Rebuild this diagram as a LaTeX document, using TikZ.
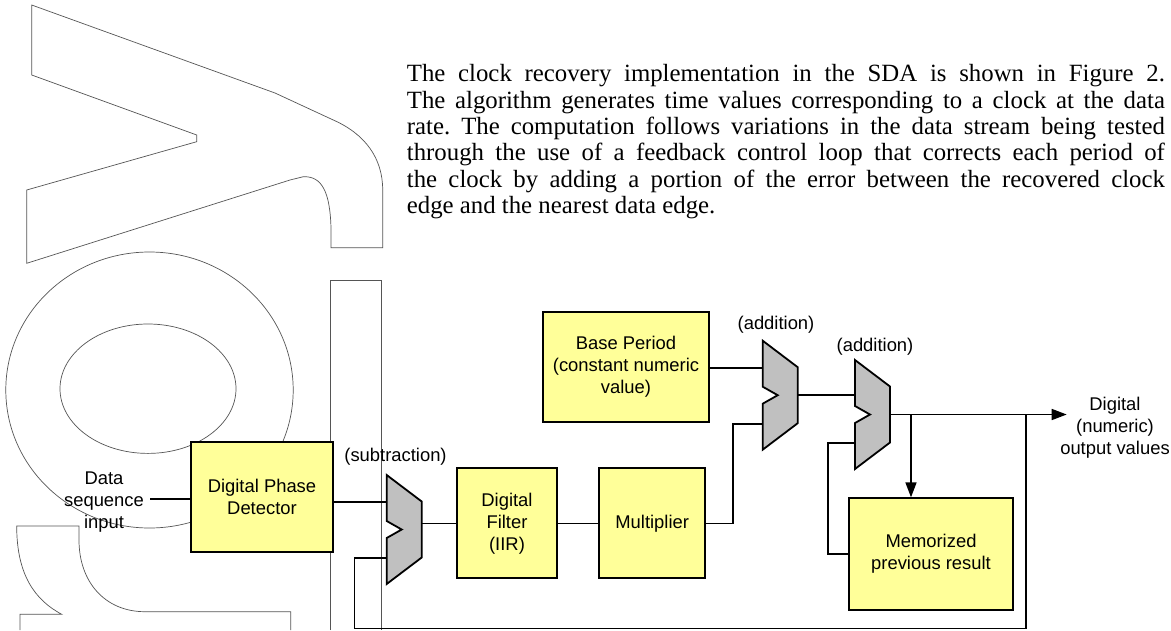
\documentclass[tikz,border=0pt]{standalone}
\usepackage{fontspec}
\setmainfont{Liberation Serif}
\newfontfamily\labelfont{Liberation Sans}
\usetikzlibrary{arrows.meta}
\frenchspacing

\definecolor{boxyellow}{HTML}{FFFF99}
\definecolor{muxgray}{HTML}{C0C0C0}
\definecolor{glyphgray}{HTML}{555555}

\tikzset{
  pics/adder/.style={code={
    \draw[mux] (0,0) -- (35,26.5) -- (35,82.5) -- (0,109) -- (0,63)
               -- (15,54.5) -- (0,46) -- cycle;
    \coordinate (-in1) at (0,27);
    \coordinate (-in2) at (0,83);
    \coordinate (-out) at (35,54.5);
  }}
}

\begin{document}
\begin{tikzpicture}[x=1pt,y=-1pt,
  labeltext/.style={font=\labelfont\fontsize{18.4pt}{22pt}\selectfont},
  block/.style={draw=black, line width=2pt, fill=boxyellow, align=center,
                labeltext, inner sep=0pt},
  wire/.style={draw=black, line width=1.6pt},
  mux/.style={draw=black, line width=1.8pt, fill=muxgray, line join=miter},
  lbl/.style={labeltext, align=center, inner sep=0pt},
  glyph/.style={draw=glyphgray, line width=0.7pt},
  para/.style={font=\fontsize{24.8pt}{26.3pt}\selectfont, anchor=base west, inner sep=0pt},
  tip/.style={-{Triangle[length=15pt,width=11pt]}}
]
\useasboundingbox (0,0) rectangle (1171,630);
\fill[white] (0,0) rectangle (1171,630);

% outlined lettering in the background
\draw[glyph] (31.7,5) -- (275,93) -- (333.3,120)
  .. controls (365,134) and (382.7,158) .. (382.7,190)
  -- (382.7,247.7) -- (331,247.7) -- (331,228)
  .. controls (330,192) and (322,176) .. (303.3,176.7)
  -- (290,180) -- (26.7,263.3) -- (26.7,190) -- (196.7,141.7)
  -- (196.7,135) -- (31.7,75) -- cycle;
\draw[glyph] (149.5,390) ellipse [x radius=143.7, y radius=138];
\draw[glyph] (148,388.7) ellipse [x radius=88, y radius=64.7];
\draw[glyph] (330,630) -- (330,280) -- (381.7,280) -- (381.7,630);
\draw[glyph] (20,630) -- (20,614.3) -- (61.7,614.3)
  .. controls (35,600) and (16.7,575) .. (16.7,526)
  -- (79,526) -- (79,540)
  .. controls (79,582) and (105,611.7) .. (145,611.7)
  -- (290.7,611.7) -- (290.7,630);

% paragraph
\node[para] (p1) at (406.7,81.7)  {\makebox[758pt][s]{The clock recovery implementation in the SDA is shown in Figure 2.}};
\node[para] (p2) at (406.7,108)   {\makebox[758pt][s]{The algorithm generates time values corresponding to a clock at the data}};
\node[para] (p3) at (406.7,134.3) {\makebox[758pt][s]{rate. The computation follows variations in the data stream being tested}};
\node[para] (p4) at (406.7,160.6) {\makebox[758pt][s]{through the use of a feedback control loop that corrects each period of}};
\node[para] (p5) at (406.7,187)   {\makebox[758pt][s]{the clock by adding a portion of the error between the recovered clock}};
\node[para] (p6) at (406.7,213.3) {edge and the nearest data edge.};

% blocks
\node[block, minimum width=142.6pt, minimum height=110pt] (dpd) at (262,497.3) {Digital Phase\\Detector};
\node[block, minimum width=99.4pt, minimum height=110pt] (filter) at (507,523.3) {Digital\\Filter\\(IIR)};
\node[block, minimum width=105.7pt, minimum height=110pt] (mult) at (652.2,523.3) {Multiplier};
\node[block, minimum width=166.6pt, minimum height=109.4pt] (base) at (626,367) {Base Period\\(constant numeric\\value)};
\node[block, minimum width=163.4pt, minimum height=111.7pt] (mem) at (931,554.2) {Memorized\\previous result};

% adders
\pic (sub)  at (386.7,475)   {adder};
\pic (add1) at (762.7,340.7) {adder};
\pic (add2) at (855,360)     {adder};

% labels
\node[lbl] (subl)  at (395.5,457)  {(subtraction)};
\node[lbl] (addl1) at (776,325)    {(addition)};
\node[lbl] (addl2) at (875,346.7)  {(addition)};
\node[lbl] (inl)   at (104,502.5)  {Data\\sequence\\input};
\node[lbl] (outl)  at (1115,427.5) {Digital\\(numeric)\\output values};

% helper points
\coordinate (din)  at (150,498.7);
\coordinate (mj)   at (732.7,0);
\coordinate (mj2)  at (827.7,0);
\coordinate (tap)  at (911,414.5);
\coordinate (outtip) at (1066.7,414.5);
\coordinate (fbr)  at (1026,628.3);
\coordinate (fbl)  at (354.3,628.3);

% connectors
\draw[wire] (din) -- (din -| dpd.west);
\draw[wire] (dpd.east |- sub-in1) -- (sub-in1);
\draw[wire] (filter.west -| sub-out) -- (filter.west);
\draw[wire] (filter) -- (mult);
\draw[wire] (mult.east) -| (mj |- add1-in2) -- (add1-in2);
\draw[wire] (base.east |- add1-in1) -- (add1-in1);
\draw[wire] (add1-out) -- (add1-out -| add2-in1);
\draw[wire, tip] (add2-out) -- (outtip);
\draw[wire, tip] (tap) -- (tap |- mem.north);
\draw[wire] (mem.west) -| (mj2 |- add2-in2) -- (add2-in2);
\draw[wire] (fbr |- add2-out) -- (fbr) -- (fbl) -- (fbl |- sub-in2) -- (sub-in2);
\end{tikzpicture}
\end{document}
